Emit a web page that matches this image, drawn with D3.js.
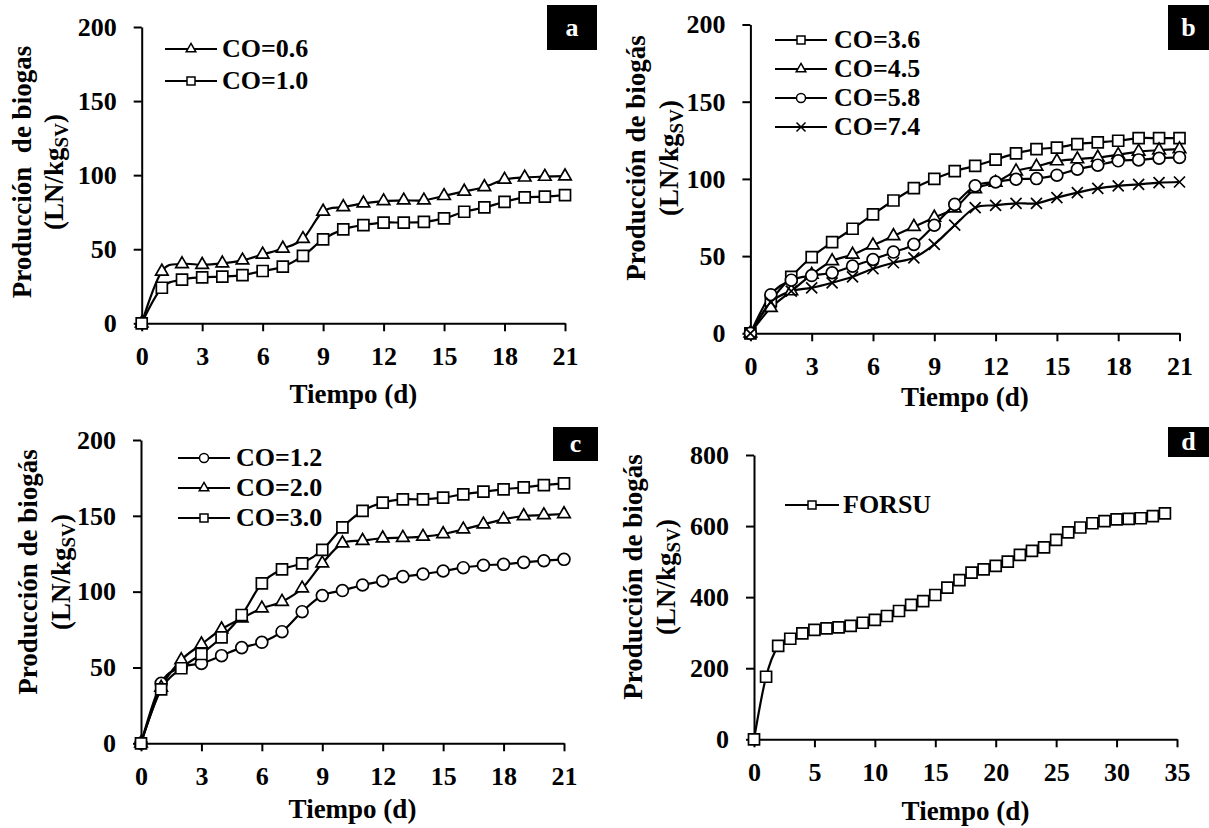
<!DOCTYPE html>
<html><head><meta charset="utf-8">
<script src="https://cdn.jsdelivr.net/npm/d3@7"></script>
<style>
html,body{margin:0;padding:0;background:#fff;}
svg text{font-family:"Liberation Serif","Times New Roman",serif;font-weight:bold;fill:#000;}
</style></head>
<body>
<svg id="chart" width="1209" height="828"></svg>
<script>
// ---------- DATA ----------
const days21 = [0,1,2,3,4,5,6,7,8,9,10,11,12,13,14,15,16,17,18,19,20,21];
const days34 = [0,1,2,3,4,5,6,7,8,9,10,11,12,13,14,15,16,17,18,19,20,21,22,23,24,25,26,27,28,29,30,31,32,33,34];

const ticksX21 = [0,3,6,9,12,15,18,21];
const ticksX35 = [0,5,10,15,20,25,30,35];
const ticksY200 = [0,50,100,150,200];
const ticksY800 = [0,200,400,600,800];

// panel a
const a_labels = ["CO=0.6","CO=1.0"];
const a_CO06 = [0,35,40,39.5,40.5,42.5,46.5,50.5,57,75.5,78.5,81,82.5,83,83,86,89,92,97,98.5,99,99.3];
const a_CO10 = [0,24,29.5,31,31.5,32.5,35.3,38.2,45.5,56.6,63.4,66.3,68,68,68.5,70.8,75.3,78.2,82,85,85.5,86.5];

// panel b
const b_labels = ["CO=3.6","CO=4.5","CO=5.8","CO=7.4"];
const b_CO36 = [0,21,36.6,49.4,59,67.7,77,86,94,100,105,108.4,112.5,116.5,119.3,120.3,122.5,123.6,124.7,126.4,126.4,126.4];
const b_CO45 = [0,16.5,27.3,38,46.8,51,57,63,69,75,81,93.5,97.6,105,108,111.5,112.8,113.9,115.6,117.7,118.6,119.3];
const b_CO58 = [0,25,34.4,37.4,39.2,43.5,47.8,52.6,57.6,70,83.5,95.5,98,99.8,100.2,102.4,106.3,108.9,111.7,112.3,113.4,113.9];
const b_CO74 = [0,20,27.3,29.4,32.7,36.6,41.8,45.7,48.9,57.6,70,81.4,82.9,84.2,84.2,87.9,91.1,93.9,95.5,96.5,97.6,98];

// panel c
const c_labels = ["CO=1.2","CO=2.0","CO=3.0"];
const c_CO12 = [0,39.6,50.1,52.7,57.8,63.1,66.6,73.6,86.8,97.4,100.7,104.4,107,109.9,111.6,113.6,115.8,117.4,118,119.3,120.4,121.3];
const c_CO20 = [0,36.7,54.9,65.3,75.2,82.4,89,93.4,102.2,118.7,131.9,133.6,135.2,135.6,136.3,138,141.1,144.4,147.7,149.9,150.5,151.2];
const c_CO30 = [0,35.6,49.5,58.9,69.9,84.6,105.5,114.7,118.7,127.5,142.4,153.2,158.7,160.9,160.9,162,164.2,165.9,167.5,168.8,170.3,171.4];

// panel d
const d_labels = ["FORSU"];
const d_FORSU = [0,176,263,283,298,308,312,315,319,328,336,347,361,378,389,406,427,448,469,478,488,500,519,530,540,561,582,596,608,614,619,620,622,628,636];

const yTitleA = ["Producción  de biogas"];
const yTitleB = ["Producción de biogás"];
const xTitle = "Tiempo (d)";
const panelLetters = ["a","b","c","d"];

// ---------- DRAWING ----------
const svg = d3.select("#chart");

function markerPath(type){
  if(type==="square") return d3.symbol(d3.symbolSquare, 121)();
  if(type==="triangle") return d3.symbol(d3.symbolTriangle, 68)();
  if(type==="circle") return d3.symbol(d3.symbolCircle, 110)();
  if(type==="x") return "M-5.5,-5.5L5.5,5.5M-5.5,5.5L5.5,-5.5";
}
function legendMarker(type){
  if(type==="square") return d3.symbol(d3.symbolSquare, 64)();
  if(type==="triangle") return d3.symbol(d3.symbolTriangle, 40)();
  if(type==="circle") return d3.symbol(d3.symbolCircle, 64)();
  if(type==="x") return "M-4.5,-4.5L4.5,4.5M-4.5,4.5L4.5,-4.5";
}

function panel(cfg){
  const g = svg.append("g");
  const x = d3.scaleLinear().domain(cfg.xDomain).range(cfg.xRange);
  const y = d3.scaleLinear().domain(cfg.yDomain).range(cfg.yRange);

  // axes
  const ax = g.append("g").attr("transform",`translate(0,${cfg.yRange[0]})`)
    .call(d3.axisBottom(x).tickValues(cfg.xTicks).tickSize(8).tickSizeOuter(0).tickPadding(15.5));
  const ay = g.append("g").attr("transform",`translate(${cfg.xRange[0]},0)`)
    .call(d3.axisLeft(y).tickValues(cfg.yTicks).tickSize(8).tickSizeOuter(0).tickPadding(17));
  [ax,ay].forEach(a=>{
    a.selectAll("path.domain").attr("stroke","#000").attr("stroke-width",2);
    a.selectAll(".tick line").attr("stroke","#000").attr("stroke-width",2);
    a.selectAll("text").style("font-size","26px").style("font-family",'"Liberation Serif","Times New Roman",serif').style("font-weight","bold").attr("fill","#000");
  });

  // series
  const line = d3.line().x((d,i)=>x(cfg.days[i])).y(d=>y(d)).curve(d3.curveCatmullRom.alpha(0));
  cfg.series.forEach(s=>{
    g.append("path").attr("d",line(s.values)).attr("fill","none").attr("stroke","#000").attr("stroke-width",2.2);
  });
  cfg.series.forEach(s=>{
    g.selectAll(null).data(s.values).enter().append("path")
      .attr("d",markerPath(s.marker))
      .attr("transform",(d,i)=>`translate(${x(cfg.days[i])},${y(d)})`)
      .attr("fill","#fff").attr("stroke","#000").attr("stroke-width",1.7);
  });

  // legend
  cfg.series.forEach((s,i)=>{
    const ly = cfg.legend.y[i];
    g.append("line").attr("x1",cfg.legend.x0).attr("x2",cfg.legend.x1).attr("y1",ly).attr("y2",ly)
      .attr("stroke","#000").attr("stroke-width",2.2);
    g.append("path").attr("d",legendMarker(s.marker))
      .attr("transform",`translate(${(cfg.legend.x0+cfg.legend.x1)/2},${ly})`)
      .attr("fill","#fff").attr("stroke","#000").attr("stroke-width",1.5);
    g.append("text").attr("x",cfg.legend.tx).attr("y",ly+8).style("font-size","26px").text(s.label);
  });

  // x title
  g.append("text").attr("x",(cfg.xRange[0]+cfg.xRange[1])/2).attr("y",cfg.xTitleY)
    .attr("text-anchor","middle").style("font-size","27px").text(xTitle);

  // y title (two lines)
  g.append("text").attr("transform",`translate(${cfg.yTitleX[0]},${cfg.yTitleCY}) rotate(-90)`)
    .attr("text-anchor","middle").style("font-size","27px").style("white-space","pre").text(cfg.yTitle[0]);
  const t2 = g.append("text").attr("transform",`translate(${cfg.yTitleX[1]},${cfg.yTitleCY}) rotate(-90)`)
    .attr("text-anchor","middle").style("font-size","27px");
  t2.append("tspan").text("(LN/kg");
  t2.append("tspan").attr("baseline-shift","-5").style("font-size","19px").text("SV");
  t2.append("tspan").text(")");

  // letter box
  const b = cfg.box;
  g.append("rect").attr("x",b[0]).attr("y",b[1]).attr("width",b[2]).attr("height",b[3]).attr("fill","#000");
  g.append("text").attr("x",b[0]+b[2]/2).attr("y",b[1]+b[3]/2+8).attr("text-anchor","middle")
    .style("font-size","26px").attr("fill","#fff").style("fill","#fff").text(cfg.letter);
}

panel({
  days: days21, xDomain:[0,21], xRange:[141.7,565], yDomain:[0,200], yRange:[323.3,27],
  xTicks: ticksX21, yTicks: ticksY200,
  series:[{label:a_labels[0],values:a_CO06,marker:"triangle"},{label:a_labels[1],values:a_CO10,marker:"square"}],
  legend:{x0:165,x1:217,tx:222,y:[49,81]},
  xTitleY:403, yTitle:yTitleA, yTitleX:[31,63], yTitleCY:172,
  box:[547,5,50,45], letter:panelLetters[0]
});
panel({
  days: days21, xDomain:[0,21], xRange:[750.4,1179.5], yDomain:[0,200], yRange:[333.3,24.5],
  xTicks: ticksX21, yTicks: ticksY200,
  series:[{label:b_labels[0],values:b_CO36,marker:"square"},{label:b_labels[1],values:b_CO45,marker:"triangle"},
          {label:b_labels[2],values:b_CO58,marker:"circle"},{label:b_labels[3],values:b_CO74,marker:"x"}],
  legend:{x0:775,x1:827,tx:834,y:[40,69,98,127]},
  xTitleY:406, yTitle:yTitleB, yTitleX:[645,678], yTitleCY:158,
  box:[1168,5,41,45], letter:panelLetters[1]
});
panel({
  days: days21, xDomain:[0,21], xRange:[141,564], yDomain:[0,200], yRange:[743.3,440],
  xTicks: ticksX21, yTicks: ticksY200,
  series:[{label:c_labels[0],values:c_CO12,marker:"circle"},{label:c_labels[1],values:c_CO20,marker:"triangle"},
          {label:c_labels[2],values:c_CO30,marker:"square"}],
  legend:{x0:178,x1:230,tx:236,y:[458,488,518]},
  xTitleY:818, yTitle:yTitleB, yTitleX:[37,70], yTitleCY:572,
  box:[553,427,45,34], letter:panelLetters[2]
});
panel({
  days: days34, xDomain:[0,35], xRange:[754,1177], yDomain:[0,800], yRange:[739.3,455],
  xTicks: ticksX35, yTicks: ticksY800,
  series:[{label:d_labels[0],values:d_FORSU,marker:"square"}],
  legend:{x0:785,x1:839,tx:843,y:[505]},
  xTitleY:820, yTitle:yTitleB, yTitleX:[642,675], yTitleCY:577,
  box:[1168,427,41,30], letter:panelLetters[3]
});
</script>
</body></html>
